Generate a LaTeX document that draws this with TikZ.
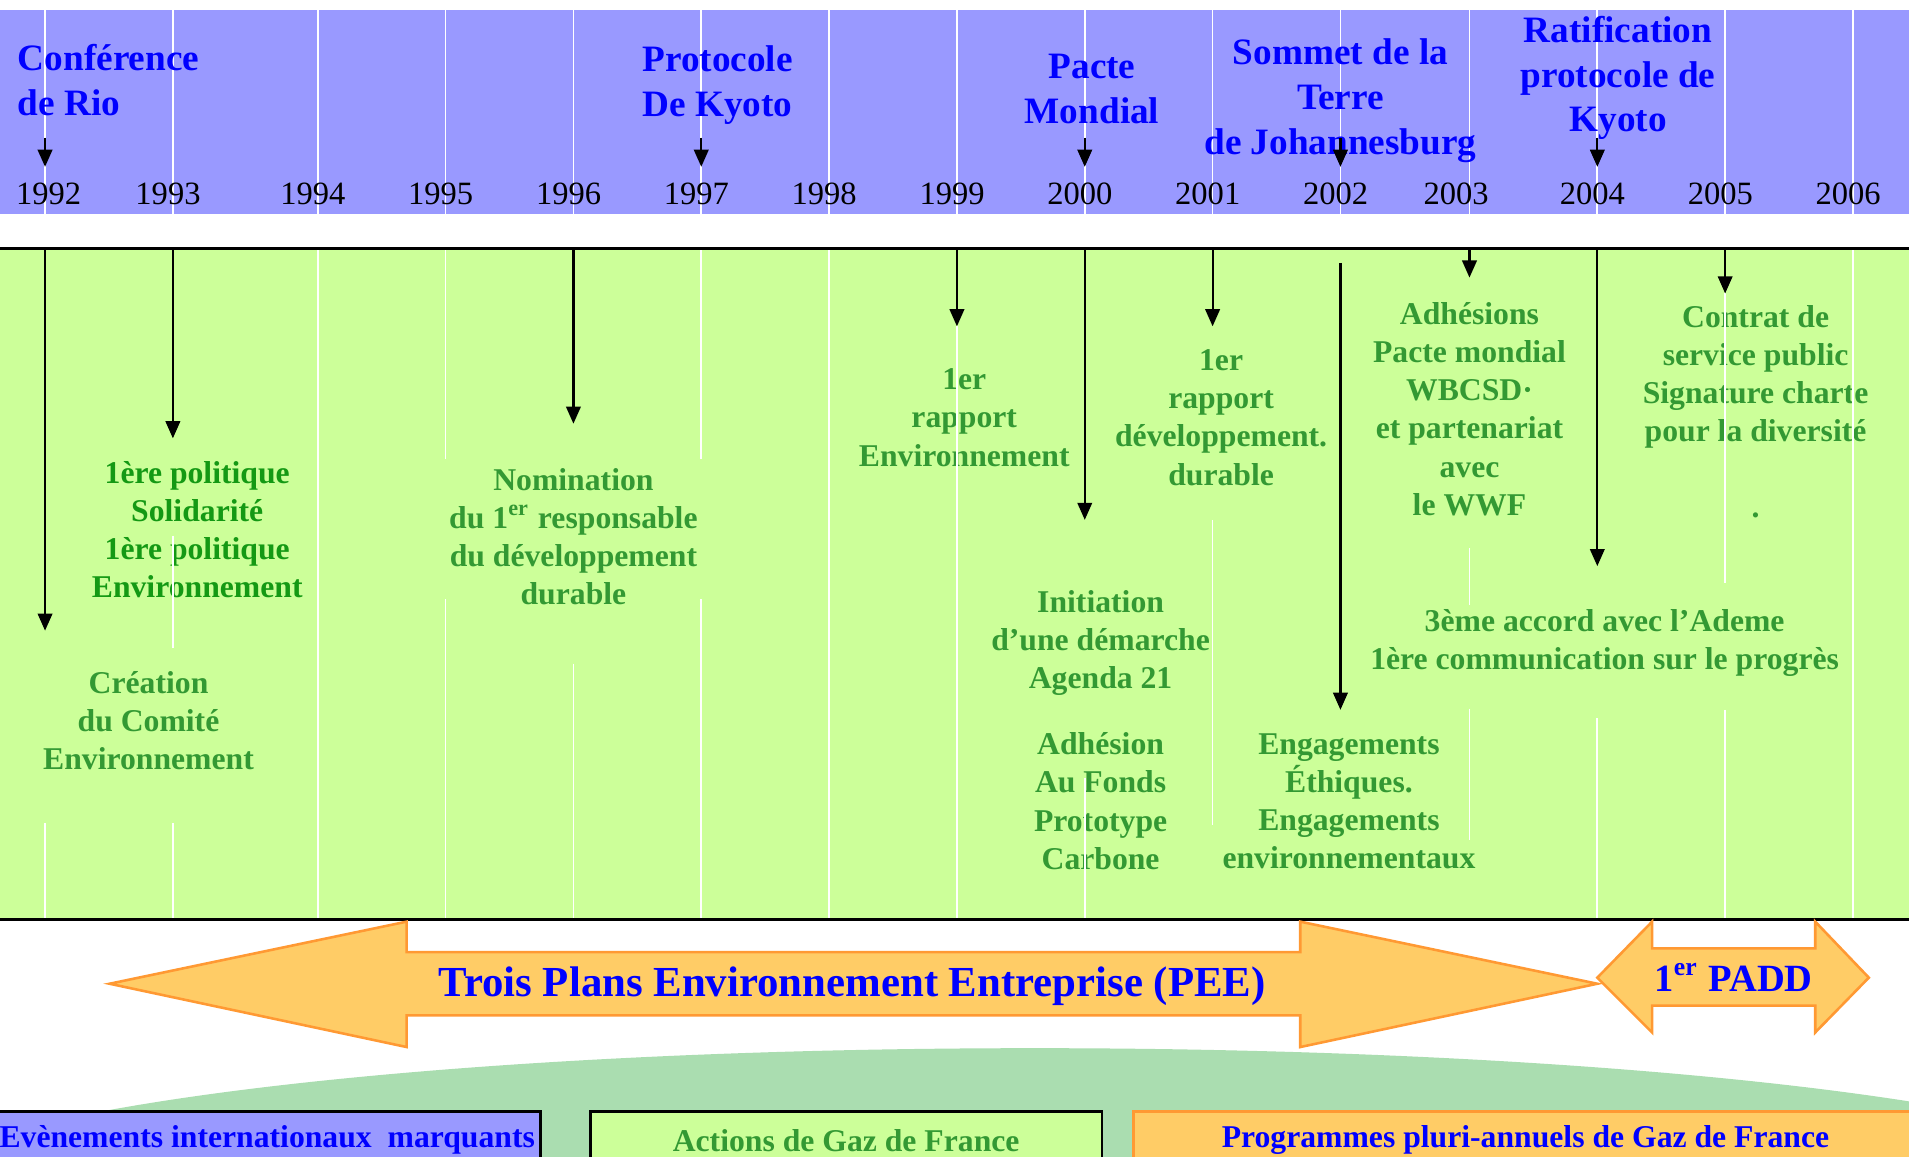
\documentclass[tikz,border=0pt]{standalone}
\usepackage{fontspec}
\setmainfont{Liberation Serif}
\usetikzlibrary{arrows.meta}
\definecolor{bandblue}{HTML}{9999FF}
\definecolor{evblue}{HTML}{0000FF}
\definecolor{bandgreen}{HTML}{CCFF99}
\definecolor{actgreen}{HTML}{339933}
\definecolor{polgreen}{HTML}{149914}
\definecolor{pfill}{HTML}{FFCC66}
\definecolor{pdraw}{HTML}{FF9933}
\definecolor{ellgreen}{HTML}{AADDB0}
\begin{document}
\begin{tikzpicture}[x=0.01cm,y=-0.01cm,
  hdr/.style={font=\fontsize{8.7}{10.5}\selectfont\bfseries, text=evblue, align=center, inner sep=0pt},
  yr/.style={font=\fontsize{7.6}{9}\selectfont, text=black, inner sep=0pt},
  act/.style={font=\fontsize{7.4}{8.9}\selectfont\bfseries, text=actgreen, align=center, inner sep=0pt},
  arr/.style={-{Triangle[width=3.4pt,length=4pt]}, line width=0.5pt, black},
  wl/.style={white, line width=0.4pt},
  bandline/.style={black, line width=0.7pt},
  plan/.style={fill=pfill, draw=pdraw, line width=0.6pt, line join=miter},
  leg/.style={font=\fontsize{7.4}{8.9}\selectfont\bfseries, inner sep=0pt, line width=0.6pt, minimum height=0.47cm},
  big/.style={font=\fontsize{10}{12}\selectfont\bfseries, text=evblue, inner sep=0pt}
]
\clip (0,0) rectangle (1568,950);
\fill[white] (0,0) rectangle (1568,950);

% ---------- blue band: international events ----------
\fill[bandblue] (0,8) rectangle (1568,176);
\foreach \x in {37,142,261,366,471,576,681,786,891,996,1101,1207,1312,1417,1522}
  \draw[wl] (\x,8) -- (\x,176);

\node[hdr, anchor=west, align=left] (rio) at (14,66) {Conférence\\de Rio};
\node[hdr, anchor=west, align=left] (kyoto) at (527,70) {Protocole\\De Kyoto};
\node[hdr] (pacte) at (897,73) {Pacte\\Mondial};
\node[hdr] (sommet) at (1101,83) {Sommet de la\\Terre\\de Johannesburg};
\node[hdr] (ratif) at (1329,64) {Ratification\\protocole de\\Kyoto};

\foreach \x/\t in {40/1992,138/1993,257/1994,362/1995,467/1996,572/1997,677/1998,782/1999,887/2000,992/2001,1097/2002,1196/2003,1308/2004,1413/2005,1518/2006}
  \node[yr] (y\t) at (\x,159) {\t};

\foreach \x/\n in {37/rio,576/kyoto,891/pacte,1101/sommet,1312/ratif} {
  \coordinate (hs\n) at (\x,113);
  \coordinate (he\n) at (\x,137);
  \draw[arr] (hs\n) -- (he\n);
}

% ---------- green band: actions ----------
\fill[bandgreen] (0,204) rectangle (1568,755);

\node[act, text=polgreen] (pol) at (162,435) {1ère politique\\Solidarité\\1ère politique\\Environnement};
\node[act] (crea) at (122,592) {Création\\du Comité\\Environnement};
\node[act] (nom) at (471,441) {Nomination\\du 1\textsuperscript{er} responsable\\du développement\\durable};
\node[act] (rap1) at (792,343) {1er\\rapport\\Environnement};
\node[act] (rap2) at (1003,343) {1er\\rapport\\développement.\\durable};
\node[act] (init) at (904,528) {Initiation\\d’une démarche\\Agenda 21};
\node[act] (adh) at (904,658) {Adhésion\\Au Fonds\\Prototype\\Carbone};
\node[act] (eng) at (1108,658) {Engagements\\Éthiques.\\Engagements\\environnementaux};
\node[act] (adhs) at (1207,336) {Adhésions\\Pacte mondial\\WBCSD·\\et partenariat\\avec\\le WWF};
\node[act] (contrat) at (1442,338) {Contrat de\\service public\\Signature charte\\pour la diversité\\~\\.};
\node[act] (accord) at (1318,528) {3ème accord avec l’Ademe\\1ère communication sur le progrès};

% white year lines (partly hidden behind texts)
\foreach \x/\a/\b in {37/676/755, 142/440/532, 142/676/755, 261/204/755,
  366/204/377, 366/492/755, 471/545/755, 576/204/377, 576/492/755,
  681/204/755, 786/268/755, 891/639/755, 996/427/678,
  1207/450/497, 1207/582/690, 1312/590/755, 1417/241/479, 1417/583/755, 1522/204/755}
  \draw[wl] (\x,\a) -- (\x,\b);

% black arrows from the time line
\foreach \x/\a/\b/\n in {37/204/518/a, 142/204/360/b, 471/204/348/c, 786/204/268/d,
  891/204/427/e, 996/204/268/f, 1101/216/583/g, 1207/204/228/h, 1312/204/465/i, 1417/204/241/j} {
  \coordinate (gs\n) at (\x,\a);
  \coordinate (ge\n) at (\x,\b);
  \draw[arr] (gs\n) -- (ge\n);
}

\draw[bandline] (0,204) -- (1568,204);
\draw[bandline] (0,755) -- (1568,755);

% ---------- bottom: ellipse, legend, programmes ----------
\fill[ellgreen] (850,981) ellipse [x radius=9.3cm, y radius=1.2cm];

\node[leg, draw=black, fill=bandblue, text=evblue, minimum width=4.49cm] (lg1) at (219.5,936.5) {Evènements internationaux~ marquants};
\node[leg, draw=black, fill=bandgreen, text=actgreen, minimum width=4.2cm] (lg2) at (695,936.5) {Actions de Gaz de France};
\node[leg, draw=pdraw, fill=pfill, text=evblue, minimum width=6.44cm] (lg3) at (1253,936.5) {Programmes pluri-annuels de Gaz de France};

\draw[plan] (90,808) -- (334,757) -- (334,782) -- (1068,782) -- (1068,757) -- (1312,808)
  -- (1068,860) -- (1068,834) -- (334,834) -- (334,860) -- cycle;
\node[big] (pee) at (700,810) {Trois Plans Environnement Entreprise (PEE)};

\draw[plan] (1312,803) -- (1357,757) -- (1357,779) -- (1491,779) -- (1491,757) -- (1535,803)
  -- (1491,848) -- (1491,826) -- (1357,826) -- (1357,848) -- cycle;
\node[big, font=\fontsize{9}{11}\selectfont\bfseries] (padd) at (1424,803) {1\textsuperscript{er} PADD};
\end{tikzpicture}
\end{document}
